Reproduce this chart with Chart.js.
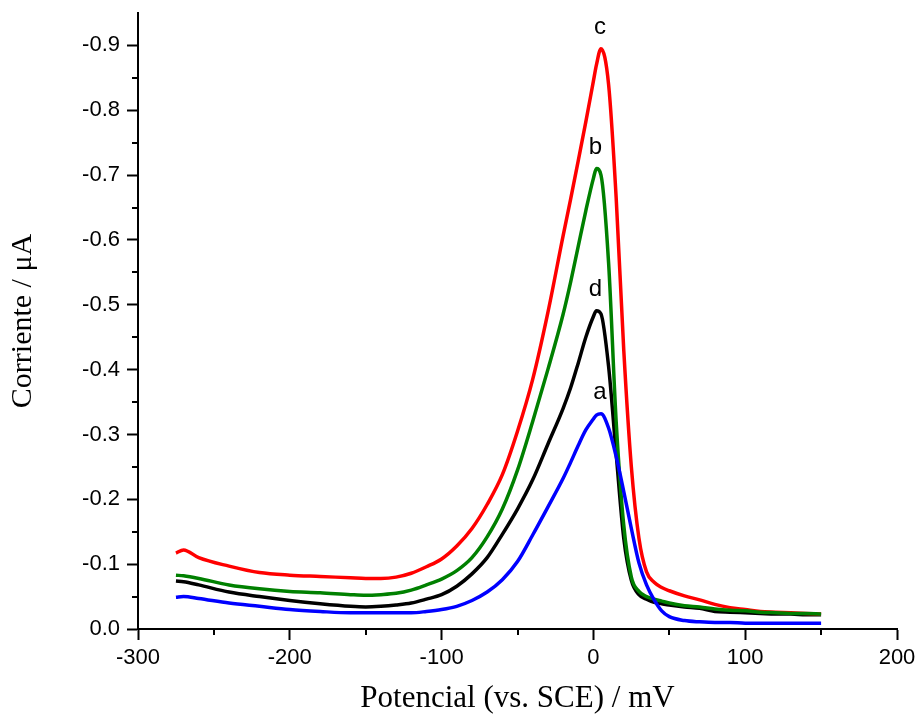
<!DOCTYPE html>
<html>
<head>
<meta charset="utf-8">
<script src="https://cdn.jsdelivr.net/npm/chart.js@4.4.1/dist/chart.umd.min.js"></script>
<style>
html,body{margin:0;padding:0;background:#fff;}
#wrap{width:918px;height:717px;}
</style>
</head>
<body>
<div id="wrap"><canvas id="c" width="918" height="717"></canvas></div>
<script>
// Potential (mV) sample grid shared by all curves
const potential = [-275,-270,-260,-240,-220,-200,-180,-160,-150,-140,-130,-120,-110,-100,-90,-80,-70,-60,-50,-40,-30,-20,-15,-10,-5,0,2,5,10,15,20,25,30,35,40,45,50,60,70,80,90,100,110,120,130,140,150];

// Current (µA) for each curve
const curveA = [-0.049,-0.050,-0.047,-0.040,-0.035,-0.030,-0.027,-0.025,-0.025,-0.025,-0.025,-0.025,-0.027,-0.030,-0.035,-0.044,-0.057,-0.076,-0.104,-0.145,-0.188,-0.232,-0.257,-0.283,-0.307,-0.324,-0.330,-0.332,-0.310,-0.266,-0.212,-0.155,-0.102,-0.068,-0.045,-0.028,-0.019,-0.013,-0.011,-0.010,-0.010,-0.009,-0.009,-0.009,-0.009,-0.009,-0.009];
const curveB = [-0.083,-0.082,-0.078,-0.068,-0.062,-0.058,-0.056,-0.053,-0.052,-0.053,-0.055,-0.060,-0.068,-0.077,-0.090,-0.110,-0.142,-0.185,-0.245,-0.320,-0.400,-0.485,-0.535,-0.590,-0.645,-0.695,-0.710,-0.700,-0.565,-0.320,-0.160,-0.080,-0.058,-0.050,-0.046,-0.043,-0.040,-0.036,-0.034,-0.031,-0.029,-0.028,-0.026,-0.025,-0.024,-0.024,-0.023];
const curveC = [-0.117,-0.122,-0.110,-0.097,-0.087,-0.083,-0.081,-0.079,-0.078,-0.078,-0.080,-0.086,-0.096,-0.108,-0.128,-0.155,-0.192,-0.238,-0.305,-0.385,-0.488,-0.606,-0.663,-0.722,-0.782,-0.845,-0.870,-0.895,-0.840,-0.665,-0.430,-0.250,-0.140,-0.088,-0.072,-0.064,-0.059,-0.051,-0.045,-0.038,-0.033,-0.030,-0.027,-0.026,-0.025,-0.024,-0.023];
const curveD = [-0.074,-0.073,-0.068,-0.057,-0.050,-0.044,-0.039,-0.035,-0.034,-0.035,-0.037,-0.040,-0.046,-0.053,-0.066,-0.085,-0.110,-0.146,-0.185,-0.230,-0.285,-0.340,-0.372,-0.410,-0.450,-0.482,-0.491,-0.486,-0.405,-0.270,-0.140,-0.075,-0.053,-0.046,-0.041,-0.039,-0.037,-0.034,-0.032,-0.027,-0.026,-0.025,-0.024,-0.023,-0.023,-0.022,-0.022];

const curveLabels = ['a','b','c','d'];
const curveColors = ['#0000ff','#008000','#ff0000','#000000'];

const xTickValues = [-300,-200,-100,0,100,200];
const yTickValues = [0.0,-0.1,-0.2,-0.3,-0.4,-0.5,-0.6,-0.7,-0.8,-0.9];

const xTitle = 'Potencial (vs. SCE) / mV';
const yTitle = 'Corriente / \u03bcA';

function toPoints(ys){ return potential.map((x,i)=>({x:x,y:ys[i]})); }

const series = [curveA, curveB, curveC, curveD];

const datasets = series.map((ys,i)=>({
  label: curveLabels[i],
  data: toPoints(ys),
  borderColor: curveColors[i],
  backgroundColor: curveColors[i],
  borderWidth: 3.5,
  pointRadius: 0,
  cubicInterpolationMode: 'monotone',
  fill: false
}));

const tickFont = {family: '"Liberation Sans", Arial, sans-serif', size: 22};
const xTitleFont = {family: '"Liberation Serif", "Times New Roman", serif', size: 31};
const yTitleFont = {family: '"Liberation Serif", "Times New Roman", serif', size: 30};

const extrasPlugin = {
  id: 'extras',
  afterDraw(chart){
    const ctx = chart.ctx;
    const xs = chart.scales.x, ys = chart.scales.y;
    ctx.save();
    ctx.strokeStyle = '#000';
    ctx.lineWidth = 2;
    // minor ticks halfway between major ticks
    for (let i=0;i<xTickValues.length-1;i++){
      const px = Math.round(xs.getPixelForValue((xTickValues[i]+xTickValues[i+1])/2));
      ctx.beginPath(); ctx.moveTo(px, xs.top); ctx.lineTo(px, xs.top+6); ctx.stroke();
    }
    for (let i=0;i<yTickValues.length-1;i++){
      const py = Math.round(ys.getPixelForValue((yTickValues[i]+yTickValues[i+1])/2));
      ctx.beginPath(); ctx.moveTo(ys.right-6, py); ctx.lineTo(ys.right, py); ctx.stroke();
    }
    // curve labels above each peak
    ctx.fillStyle = '#000';
    ctx.font = '24px "Liberation Sans", Arial, sans-serif';
    ctx.textAlign = 'center';
    ctx.textBaseline = 'alphabetic';
    series.forEach((ysArr,i)=>{
      let k = 0;
      for (let j=1;j<ysArr.length;j++) if (ysArr[j] < ysArr[k]) k = j;
      const px = xs.getPixelForValue(potential[k]);
      const py = ys.getPixelForValue(ysArr[k]);
      ctx.fillText(curveLabels[i], px - 1, py - 15);
    });
    ctx.restore();
  }
};

new Chart(document.getElementById('c'), {
  type: 'line',
  data: { datasets: datasets },
  options: {
    responsive: false,
    animation: false,
    events: [],
    layout: { padding: { top: 13, right: 21, left: 0, bottom: 0 } },
    plugins: { legend: {display:false}, tooltip: {enabled:false} },
    scales: {
      x: {
        type: 'linear',
        min: -300, max: 200,
        afterBuildTicks: s => { s.ticks = xTickValues.map(v=>({value:v})); },
        afterFit: s => { s.height = 88; s.paddingLeft = 0; s.paddingRight = 0; },
        ticks: { font: tickFont, color: '#000', padding: 5, maxRotation: 0, callback: v => String(v) },
        grid: { display: true, drawOnChartArea: false, drawTicks: true, tickLength: 11, tickWidth: 2, tickColor: '#000' },
        border: { display: true, color: '#000', width: 2 },
        title: { display: true, text: xTitle, font: xTitleFont, color: '#000', padding: { top: 0, bottom: 0 } }
      },
      y: {
        type: 'linear',
        min: -0.95, max: 0,
        reverse: true,
        afterBuildTicks: s => { s.ticks = yTickValues.map(v=>({value:v})); },
        afterFit: s => { s.width = 138; s.paddingTop = 0; s.paddingBottom = 0; },
        ticks: { font: tickFont, color: '#000', padding: 7, callback: v => (Math.abs(v) < 1e-9 ? '0.0' : v.toFixed(1)) },
        grid: { display: true, drawOnChartArea: false, drawTicks: true, tickLength: 11, tickWidth: 2, tickColor: '#000' },
        border: { display: true, color: '#000', width: 2 },
        title: { display: true, text: yTitle, font: yTitleFont, color: '#000', padding: { top: 5, bottom: 0 } }
      }
    }
  },
  plugins: [extrasPlugin]
});
</script>
</body>
</html>
